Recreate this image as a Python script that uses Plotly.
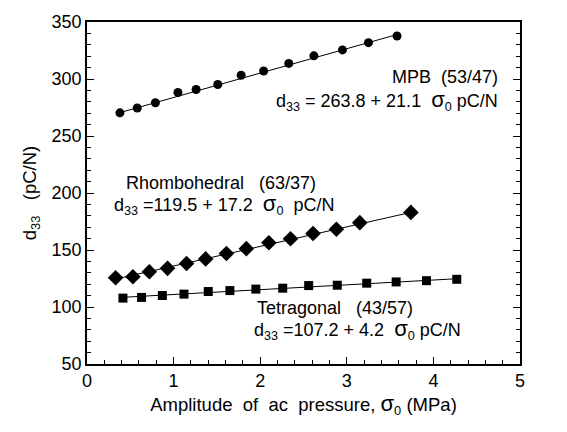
import plotly.graph_objects as go

# ---- data ----
mpb_x = [0.38, 0.58, 0.79, 1.05, 1.26, 1.51, 1.78, 2.04, 2.33, 2.62, 2.95, 3.25, 3.58]
mpb_y = [270.3, 274.6, 279.2, 288.2, 290.8, 295.2, 303.3, 307.0, 313.7, 320.3, 325.5, 331.9, 337.7]

rho_x = [0.33, 0.53, 0.72, 0.93, 1.15, 1.37, 1.61, 1.84, 2.10, 2.35, 2.61, 2.88, 3.15, 3.74]
rho_y = [125.7, 126.6, 130.9, 133.9, 138.2, 142.2, 146.9, 151.2, 156.4, 159.9, 164.5, 168.2, 174.0, 183.0]

tet_x = [0.415, 0.63, 0.87, 1.12, 1.40, 1.65, 1.95, 2.26, 2.56, 2.89, 3.23, 3.57, 3.92, 4.27]
tet_y = [107.8, 108.4, 110.1, 111.3, 113.6, 114.4, 115.7, 116.5, 118.8, 119.1, 120.9, 122.0, 123.1, 124.3]

# fitted lines (end points)
mpb_fit_x = [0.38, 3.58]
mpb_fit_y = [270.5, 339.0]
rho_fit_x = [0.33, 3.74]
rho_fit_y = [124.5, 183.0]
tet_fit_x = [0.415, 4.27]
tet_fit_y = [108.5, 124.8]

x_ticks = [0, 1, 2, 3, 4, 5]
y_ticks = [50, 100, 150, 200, 250, 300, 350]

FONT = "Liberation Sans, Arial, Helvetica, sans-serif"
SIG = '<span style="font-size:22px">σ</span><sub>0</sub>'

fig = go.Figure()
for fx, fy in [(mpb_fit_x, mpb_fit_y), (rho_fit_x, rho_fit_y), (tet_fit_x, tet_fit_y)]:
    fig.add_trace(go.Scatter(x=fx, y=fy, mode="lines",
                             line=dict(color="black", width=1), showlegend=False))

fig.add_trace(go.Scatter(x=mpb_x, y=mpb_y, mode="markers",
                         marker=dict(symbol="circle", size=9, color="black"), showlegend=False))
fig.add_trace(go.Scatter(x=rho_x, y=rho_y, mode="markers",
                         marker=dict(symbol="diamond", size=12, color="black"), showlegend=False))
fig.add_trace(go.Scatter(x=tet_x, y=tet_y, mode="markers",
                         marker=dict(symbol="square", size=9, color="black"), showlegend=False))

ann_font = dict(family=FONT, size=18, color="black")
annotations = [
    dict(x=500, y=74, text="MPB  (53/47)", xanchor="right"),
    dict(x=500, y=97, text="d<sub>33</sub> = 263.8 + 21.1  " + SIG + " pC/N", xanchor="right"),
    dict(x=124, y=181, text="Rhombohedral   (63/37)", xanchor="left"),
    dict(x=112, y=203, text="d<sub>33</sub> =119.5 + 17.2  " + SIG + "  pC/N", xanchor="left"),
    dict(x=255, y=307, text="Tetragonal   (43/57)", xanchor="left"),
    dict(x=252, y=329, text="d<sub>33</sub> =107.2 + 4.2  " + SIG + " pC/N", xanchor="left"),
]

W, H = 567, 432
L, R, T, B = 87, 47, 18, 68
plot_w = W - L - R
plot_h = H - T - B
for a in annotations:
    fig.add_annotation(x=(a["x"] - L) / plot_w, y=1 - (a["y"] - T) / plot_h,
                       xref="paper", yref="paper",
                       text=a["text"], xanchor=a["xanchor"], yanchor="middle",
                       showarrow=False, font=ann_font)

axis_common = dict(
    showline=True, linecolor="black", linewidth=1.5,
    ticks="inside", ticklen=7, tickwidth=1, tickcolor="black",
    showgrid=False, zeroline=False,
    tickfont=dict(family=FONT, size=18, color="black"),
)

fig.update_layout(
    width=W, height=H,
    margin=dict(l=L, r=R, t=T, b=B),
    paper_bgcolor="white", plot_bgcolor="white",
    xaxis=dict(range=[0, 5], tickvals=x_ticks, mirror=True,
               minor=dict(dtick=0.2, ticks="inside", ticklen=4, tickcolor="black"),
               title=dict(text="Amplitude  of  ac  pressure, " + SIG + " (MPa)",
                          font=dict(family=FONT, size=18.5, color="black"), standoff=6),
               **axis_common),
    yaxis=dict(range=[50, 350], tickvals=y_ticks, mirror="allticks",
               minor=dict(dtick=10, ticks="inside", ticklen=4, tickcolor="black"),
               title=dict(text="d<sub>33</sub>   (pC/N)",
                          font=dict(family=FONT, size=18.5, color="black"), standoff=10),
               **axis_common),
)

fig.write_html("out.html")
